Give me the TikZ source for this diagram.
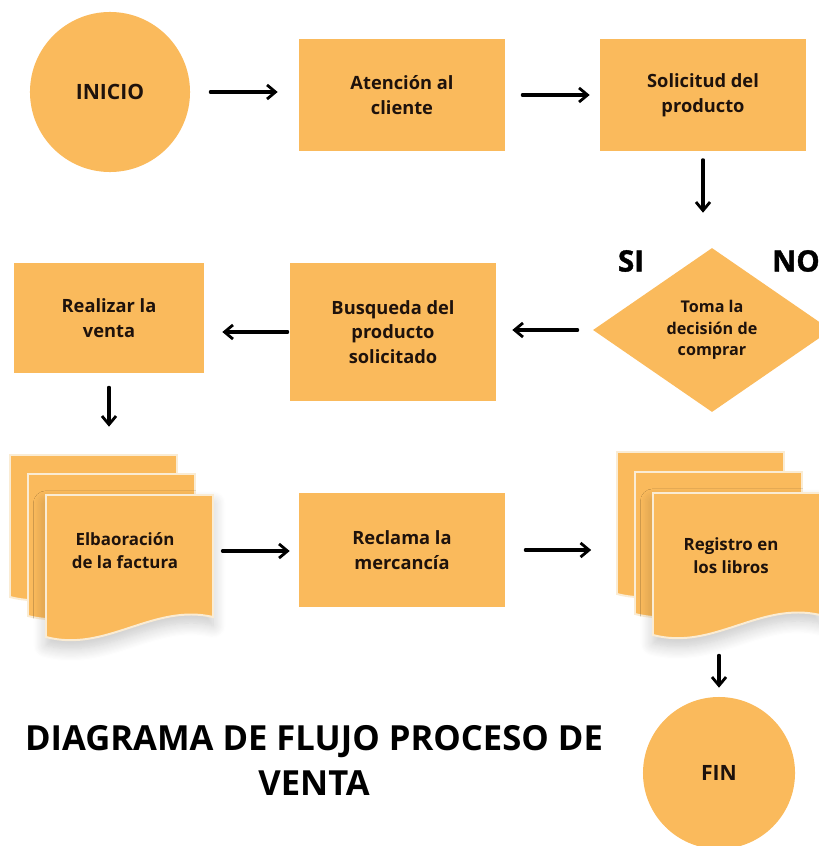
\documentclass[tikz,border=0pt]{standalone}
\usepackage{fontspec}
\setmainfont{Open Sans}
\newfontfamily\negrita{Open Sans}[BoldFeatures={FakeBold=1.2}]
\usetikzlibrary{shapes.geometric,arrows.meta,shadows.blur}

\definecolor{naranja}{RGB}{250,186,92}
\definecolor{tinta}{RGB}{30,18,12}
\definecolor{borde}{RGB}{250,236,212}

\tikzset{
    caja/.style={rectangle,fill=naranja,text=tinta,font=\bfseries\fontsize{13}{17.5}\selectfont,align=center,inner sep=0pt},
    circulo/.style={circle,fill=naranja,text=tinta,font=\bfseries\fontsize{15}{18}\selectfont,inner sep=0pt},
    doctexto/.style={rectangle,text=tinta,font=\bfseries\fontsize{12}{16.5}\selectfont,align=center,inner sep=0pt,minimum width=4.175cm,minimum height=3.55cm},
    hoja/.style={fill=naranja,draw=borde,line width=1.4pt},
    sombra/.style={blur shadow={shadow xshift=0pt,shadow yshift=-6pt,shadow opacity=22,shadow blur radius=9pt,shadow blur steps=12}},
    flecha/.style={-{Straight Barb[length=6pt,width=10pt,line width=2pt]},line width=2.2pt,line cap=round},
    etiqueta/.style={font=\negrita\bfseries\fontsize{21}{23}\selectfont,text=black}
}

% one sheet of a document stack, top left corner at (#2,#3)
\newcommand{\hojadoc}[3][]{%
    \path[hoja,#1] (#2,#3) -- ++(167,0) -- ++(0,122)
        .. controls +(-60,-14) and +(60,16) .. ++(-167,20) -- cycle;}

\begin{document}
\begin{tikzpicture}[x=0.025cm,y=-0.025cm]
    \useasboundingbox (0,0) rectangle (819,846);
    \begin{scope}
    \clip (0,0) rectangle (819,846);

    % first row
    \node[circulo,minimum size=4cm] (inicio) at (110,92) {INICIO};
    \node[caja,minimum width=5.15cm,minimum height=2.775cm] (atencion) at (402,95) {Atención al\\cliente};
    \node[caja,minimum width=5.15cm,minimum height=2.775cm] (solicitud) at (703,95) {Solicitud del\\producto};

    % decision row
    \node[diamond,fill=naranja,text=tinta,inner sep=0pt,minimum width=5.95cm,minimum height=4.1cm,
        font=\bfseries\fontsize{11.5}{15.5}\selectfont,align=center] (decision) at (712,330) {Toma la\\decisión de\\comprar};
    \node[etiqueta] (si) at (631,261) {SI};
    \node[etiqueta] (no) at (796,261) {NO};
    \node[caja,minimum width=5.15cm,minimum height=3.45cm] (busqueda) at (393,332) {Busqueda del\\producto\\solicitado};
    \node[caja,minimum width=4.75cm,minimum height=2.75cm] (realizar) at (109,318) {Realizar la\\venta};

    % document stacks
    \hojadoc{10}{455}
    \hojadoc{28}{474}
    \hojadoc[sombra]{46}{495}
    \node[doctexto] (factura) at (125,551) {Elbaoración\\de la factura};
    \node[caja,minimum width=5.15cm,minimum height=2.825cm] (reclama) at (402,550) {Reclama la\\mercancía};
    \hojadoc{617}{452}
    \hojadoc{635}{472}
    \hojadoc[sombra]{653}{493}
    \node[doctexto] (registro) at (731,556) {Registro en\\los libros};

    \node[circulo,minimum size=3.8cm] (fin) at (719,773) {FIN};
    \node[font=\bfseries\fontsize{24.6}{32}\selectfont,text=black,align=center] (titulo) at (314,760)
        {DIAGRAMA DE FLUJO PROCESO DE\\VENTA};

    % arrows
    \draw[flecha,shorten <=0.5cm,shorten >=0.525cm] (inicio.east) -- (inicio.east -| atencion.west);
    \draw[flecha,shorten <=0.425cm,shorten >=0.25cm] (atencion) -- (solicitud);
    \draw[flecha,shorten <=0.225cm,shorten >=0.875cm] (solicitud) -- (solicitud |- decision.north);
    \draw[flecha,shorten <=0.375cm,shorten >=0.4cm] (decision.west) -- (decision.west -| busqueda.east);
    \draw[flecha,shorten <=0.05cm,shorten >=0.45cm] (busqueda.west) -- (busqueda.west -| realizar.east);
    \draw[flecha,shorten <=0.35cm,shorten >=1.325cm] (realizar) -- (realizar |- factura.north);
    \draw[flecha,shorten <=0.34cm,shorten >=0.225cm] (factura.east) -- (factura.east -| reclama.west);
    \draw[flecha,shorten <=0.5cm,shorten >=1.4cm] (reclama.east) -- (reclama.east -| registro.west);
    \draw[flecha,shorten <=0.7cm,shorten >=0.225cm] (registro.south -| fin) -- (fin);
    \end{scope}
\end{tikzpicture}
\end{document}
